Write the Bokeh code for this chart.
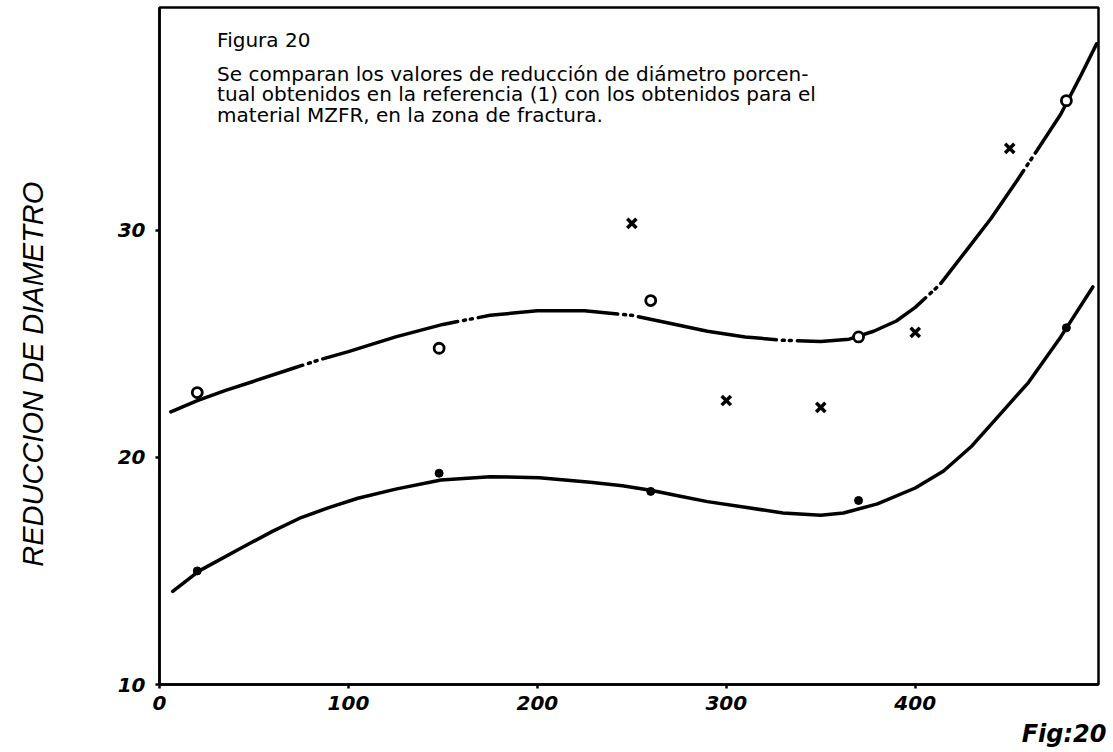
from bokeh.embed import file_html
from bokeh.models import FixedTicker, Label, Range1d, Title
from bokeh.plotting import figure
from bokeh.resources import INLINE

# Upper envelope curve (reference data)
upper_x = [6, 20, 35, 50, 70, 85, 100, 125, 150, 175, 200, 225, 250, 270,
           290, 310, 330, 350, 365, 378, 390, 400, 413, 427, 440, 454, 466,
           477, 487, 496]
upper_y = [22.0, 22.5, 22.95, 23.35, 23.9, 24.3, 24.65, 25.3, 25.85, 26.25,
           26.45, 26.45, 26.25, 25.9, 25.55, 25.3, 25.15, 25.1, 25.2, 25.55,
           26.0, 26.6, 27.6, 29.1, 30.5, 32.2, 33.7, 35.1, 36.7, 38.2]

# Lower curve (MZFR material)
lower_x = [7, 21, 43, 60, 75, 90, 105, 125, 149, 175, 201, 228, 245, 260,
           275, 290, 310, 330, 350, 362, 380, 400, 415, 430, 445, 460, 477,
           494]
lower_y = [14.1, 15.0, 16.0, 16.75, 17.35, 17.8, 18.2, 18.6, 19.0, 19.15,
           19.1, 18.9, 18.75, 18.55, 18.3, 18.05, 17.8, 17.55, 17.45, 17.55,
           17.95, 18.65, 19.4, 20.5, 21.9, 23.3, 25.3, 27.5]

# Measured points
circle_x = [20, 148, 260, 370, 480]
circle_y = [22.85, 24.8, 26.9, 25.3, 35.7]
cross_x = [250, 300, 350, 400, 450]
cross_y = [30.3, 22.5, 22.2, 25.5, 33.6]
dot_x = [20, 148, 260, 370, 480]
dot_y = [15.0, 19.3, 18.5, 18.1, 25.7]

x_ticks = [0, 100, 200, 300, 400]
y_ticks = [10, 20, 30]

caption_title = "Figura 20"
caption_body = [
    "Se comparan los valores de reducción de diámetro porcen-",
    "tual obtenidos en la referencia (1) con los obtenidos para el",
    "material MZFR, en la zona de fractura.",
]
y_title = "REDUCCION DE DIAMETRO"
fig_tag = "Fig:20"

p = figure(
    width=1113, height=752,
    x_range=Range1d(0, 497), y_range=Range1d(10, 39.8),
    output_backend="svg", toolbar_location=None,
    min_border_left=159, min_border_right=15,
    min_border_top=7, min_border_bottom=66,
)
p.background_fill_color = "white"
p.border_fill_color = "white"
p.grid.visible = False
p.outline_line_color = "black"
p.outline_line_width = 2.5

for ax in (p.xaxis[0], p.yaxis[0]):
    ax.axis_line_width = 2.5
    ax.axis_line_color = "black"
    ax.major_tick_in = 0
    ax.major_tick_out = 4
    ax.major_tick_line_width = 2.5
    ax.minor_tick_line_color = None
    ax.major_label_text_font = "DejaVu Sans"
    ax.major_label_text_font_style = "bold italic"
    ax.major_label_text_font_size = "20px"
    ax.major_label_text_color = "black"

p.xaxis.ticker = FixedTicker(ticks=x_ticks)
p.yaxis.ticker = FixedTicker(ticks=y_ticks)
p.xaxis.major_label_standoff = 7
p.yaxis.major_label_standoff = 10

# vertical axis title, nudged down with trailing no-break spaces
p.yaxis.axis_label = y_title + "\u00a0" * 7
p.yaxis.axis_label_text_font = "Liberation Sans"
p.yaxis.axis_label_text_font_style = "italic"
p.yaxis.axis_label_text_font_size = "29px"
p.yaxis.axis_label_text_color = "black"
p.yaxis.axis_label_standoff = 66

# figure tag under the bottom right corner
p.add_layout(Title(
    text=fig_tag, align="right", offset=-8,
    text_font="DejaVu Sans", text_font_style="bold italic",
    text_font_size="24px", text_color="black",
), "below")

# curves
p.line(upper_x, upper_y, line_color="black", line_width=3.5,
       line_dash="140 6 2 5 2 6", line_cap="round")
p.line(lower_x, lower_y, line_color="black", line_width=3.5, line_cap="round")

# points
p.scatter(circle_x, circle_y, marker="circle", size=10, fill_color="white",
          line_color="black", line_width=2.8)
p.scatter(cross_x, cross_y, marker="x", size=13, line_color="black",
          line_width=3.5)
p.scatter(dot_x, dot_y, marker="circle", size=8, fill_color="black",
          line_color="black")

# caption block inside the frame
cap_x = 30.5
p.add_layout(Label(
    x=cap_x, y=38.38, text=caption_title, text_font="DejaVu Sans",
    text_font_size="20px", text_color="black",
    text_baseline="middle", text_align="left",
))
for i, line in enumerate(caption_body):
    p.add_layout(Label(
        x=cap_x, y=36.89 - i * 0.9, text=line, text_font="DejaVu Sans",
        text_font_size="20px", text_color="black",
        text_baseline="middle", text_align="left",
    ))

open("out.html", "w").write(file_html(p, INLINE))
